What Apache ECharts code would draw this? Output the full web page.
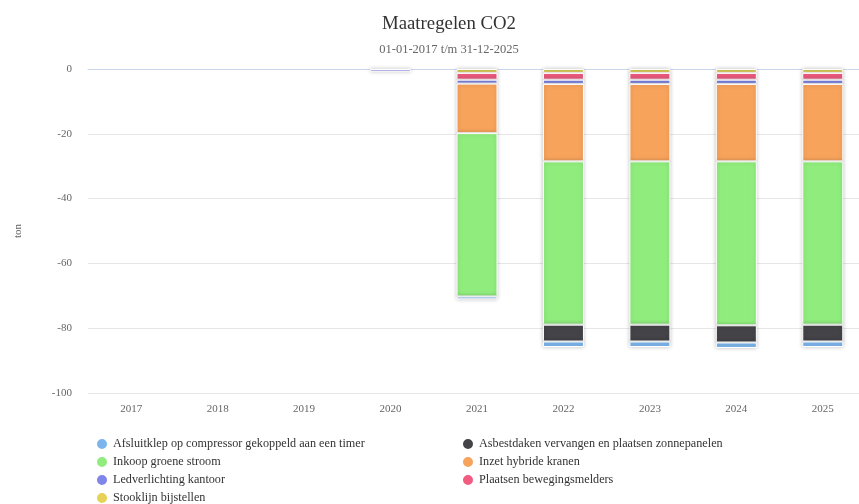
<!DOCTYPE html>
<html>
<head>
<meta charset="utf-8">
<script src="https://cdn.jsdelivr.net/npm/echarts@6/dist/echarts.min.js"></script>
<style>html,body{margin:0;padding:0;background:#fff}#c{width:859px;height:504px}</style>
</head>
<body>
<div id="c"></div>
<script>
const categories = ['2017','2018','2019','2020','2021','2022','2023','2024','2025'];
const yTicks = [0, -20, -40, -60, -80, -100];

const afsluitklep   = [null, null, null, null, -0.9, -1.7, -1.7, -1.7, -1.7];
const asbestdaken   = [null, null, null, null, null, -5.2, -5.2, -5.3, -5.2];
const inkoopGroen   = [null, null, null, null, -50.4, -50.4, -50.4, -50.6, -50.4];
const inzetHybride  = [null, null, null, null, -15.3, -23.9, -23.9, -23.9, -23.9];
const ledverlichting= [null, null, null, -0.8, -1.2, -1.3, -1.3, -1.3, -1.3];
const bewegingsmelders = [null, null, null, null, -2.1, -2.1, -2.1, -2.1, -2.1];
const stooklijn     = [null, null, null, null, -1.2, -1.2, -1.2, -1.2, -1.2];

const seriesDefs = [
  {name:'Afsluitklep op compressor gekoppeld aan een timer', data: afsluitklep, color:'#7cb5ec'},
  {name:'Asbestdaken vervangen en plaatsen zonnepanelen', data: asbestdaken, color:'#434348'},
  {name:'Inkoop groene stroom', data: inkoopGroen, color:'#90ed7d'},
  {name:'Inzet hybride kranen', data: inzetHybride, color:'#f7a35c'},
  {name:'Ledverlichting kantoor', data: ledverlichting, color:'#8085e9'},
  {name:'Plaatsen bewegingsmelders', data: bewegingsmelders, color:'#f15c80'},
  {name:'Stooklijn bijstellen', data: stooklijn, color:'#e4d354'}
];

const font = 'Liberation Serif, Times New Roman, serif';
const chart = echarts.init(document.getElementById('c'), null, {renderer:'canvas'});
const legendText = {color:'#333', fontSize:12.2, fontFamily: font};

chart.setOption({
  animation:false,
  backgroundColor:'#fff',
  title:{
    text:'Maatregelen CO2',
    subtext:'01-01-2017 t/m 31-12-2025',
    left:444, textAlign:'center', top:10,
    textStyle:{color:'#333', fontSize:18.8, fontWeight:'normal', fontFamily:font},
    subtextStyle:{color:'#666', fontSize:12.5, fontFamily:font},
    itemGap:9
  },
  legend:[
    {data:[seriesDefs[0].name, seriesDefs[2].name, seriesDefs[4].name, seriesDefs[6].name],
     orient:'vertical', left:90, top:432, height:75, icon:'circle', itemWidth:12, itemHeight:12, itemGap:4,
     textStyle:legendText, selectedMode:false},
    {data:[seriesDefs[1].name, seriesDefs[3].name, seriesDefs[5].name],
     orient:'vertical', left:456, top:432, height:75, icon:'circle', itemWidth:12, itemHeight:12, itemGap:4,
     textStyle:legendText, selectedMode:false}
  ],
  grid:{left:88, width:778, top:69, height:324, containLabel:false, outerBoundsMode:'none'},
  xAxis:{
    type:'category', data:categories,
    axisLine:{show:true, lineStyle:{color:'#ccd6eb'}},
    axisTick:{show:false},
    axisLabel:{color:'#666', fontSize:11, fontFamily:font, margin:11},
    splitLine:{show:false}
  },
  yAxis:{
    type:'value', min:-100, max:0, interval:20,
    name:'ton', nameLocation:'middle', nameGap:64, nameRotate:90,
    nameTextStyle:{color:'#666', fontSize:11, fontFamily:font},
    axisLine:{show:false}, axisTick:{show:false},
    axisLabel:{color:'#666', fontSize:11, fontFamily:font, margin:16,
      formatter: v => yTicks.includes(v) ? String(v) : ''},
    splitLine:{lineStyle:{color:'#e6e6e6'}}
  },
  series: seriesDefs.slice().reverse().map(s => ({
    name:s.name, type:'bar', stack:'total', data:s.data, barWidth:41,
    itemStyle:{color:s.color, borderColor:'#fff', borderWidth:1,
      shadowColor:'rgba(0,0,0,0.22)', shadowBlur:4, shadowOffsetX:0, shadowOffsetY:0}
  }))
});
</script>
</body>
</html>
